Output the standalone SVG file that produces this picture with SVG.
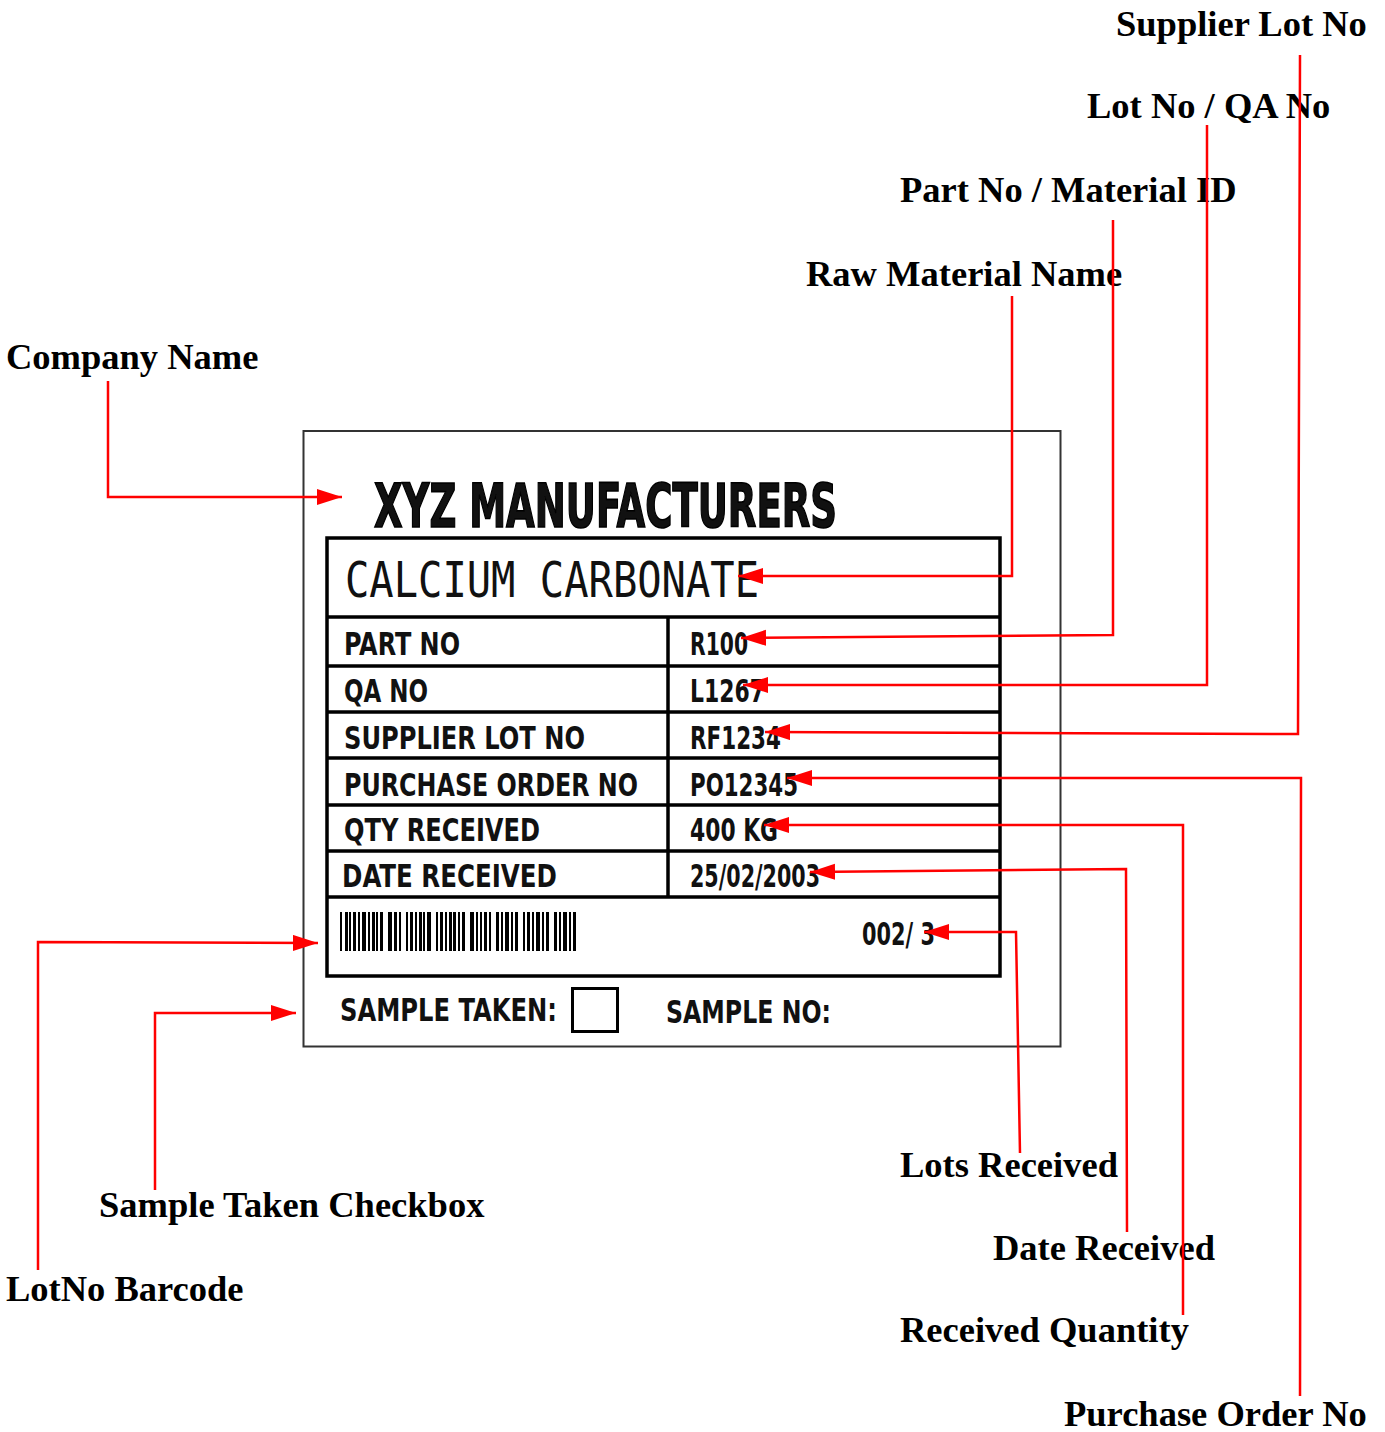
<svg xmlns="http://www.w3.org/2000/svg" width="1385" height="1432" viewBox="0 0 1385 1432">
<style>
.ann{font-family:"Liberation Serif","Times New Roman",serif;font-weight:bold;font-size:36.5px;fill:#000}
.cond{font-family:"Liberation Sans Narrow","DejaVu Sans Condensed","Liberation Sans",sans-serif;font-weight:bold;font-stretch:condensed;fill:#111}
.cell{font-size:31.5px}
.conn{fill:none;stroke:#ff0000;stroke-width:2.5;marker-end:url(#ah)}
.tbl{fill:none;stroke:#000;stroke-width:3.5}
.bar{fill:#000}
</style>
<defs>
<marker id="ah" markerUnits="userSpaceOnUse" markerWidth="26" markerHeight="18" refX="25" refY="8" orient="auto">
<path d="M0,0 L25,8 L0,16 Z" fill="#ff0000"/>
</marker>
</defs>
<rect width="1385" height="1432" fill="#fff"/>

<g id="label">
<rect x="303.5" y="431" width="757" height="615.5" fill="none" stroke="#333" stroke-width="2"/>
<text class="cond" x="374" y="527" font-size="60" textLength="463" lengthAdjust="spacingAndGlyphs" fill="#000" stroke="#000" stroke-width="1.6">XYZ MANUFACTURERS</text>
<rect class="tbl" x="327" y="538" width="673" height="438"/>
<line class="tbl" x1="327" y1="617" x2="1000" y2="617"/>
<line class="tbl" x1="327" y1="666" x2="1000" y2="666"/>
<line class="tbl" x1="327" y1="712" x2="1000" y2="712"/>
<line class="tbl" x1="327" y1="758" x2="1000" y2="758"/>
<line class="tbl" x1="327" y1="805" x2="1000" y2="805"/>
<line class="tbl" x1="327" y1="851" x2="1000" y2="851"/>
<line class="tbl" x1="327" y1="897" x2="1000" y2="897"/>
<line class="tbl" x1="668" y1="617" x2="668" y2="897"/>
<text x="345" y="597" font-family="'DejaVu Sans Mono','Liberation Mono',monospace" font-size="50" textLength="414" lengthAdjust="spacingAndGlyphs" fill="#111">CALCIUM CARBONATE</text>
<text class="cond cell" x="344" y="655" textLength="116" lengthAdjust="spacingAndGlyphs">PART NO</text>
<text class="cond cell" x="344" y="702" textLength="84" lengthAdjust="spacingAndGlyphs">QA NO</text>
<text class="cond cell" x="344" y="749" textLength="241" lengthAdjust="spacingAndGlyphs">SUPPLIER LOT NO</text>
<text class="cond cell" x="344" y="796" textLength="294" lengthAdjust="spacingAndGlyphs">PURCHASE ORDER NO</text>
<text class="cond cell" x="344" y="841" textLength="196" lengthAdjust="spacingAndGlyphs">QTY RECEIVED</text>
<text class="cond cell" x="342" y="887" textLength="215" lengthAdjust="spacingAndGlyphs">DATE RECEIVED</text>
<text class="cond cell" x="690" y="655" textLength="58" lengthAdjust="spacingAndGlyphs">R100</text>
<text class="cond cell" x="690" y="702" textLength="75" lengthAdjust="spacingAndGlyphs">L1267</text>
<text class="cond cell" x="690" y="749" textLength="91" lengthAdjust="spacingAndGlyphs">RF1234</text>
<text class="cond cell" x="690" y="796" textLength="108" lengthAdjust="spacingAndGlyphs">PO12345</text>
<text class="cond cell" x="690" y="841" textLength="88" lengthAdjust="spacingAndGlyphs">400 KG</text>
<text class="cond cell" x="690" y="887" textLength="130" lengthAdjust="spacingAndGlyphs">25/02/2003</text>
<text class="cond cell" x="862" y="945" textLength="73" lengthAdjust="spacingAndGlyphs">002/ 3</text>
<g id="barcode">
<rect class="bar" x="340" y="912" width="2" height="39"/>
<rect class="bar" x="345" y="912" width="3" height="39"/>
<rect class="bar" x="349" y="912" width="2" height="39"/>
<rect class="bar" x="353" y="912" width="3" height="39"/>
<rect class="bar" x="358" y="912" width="2" height="39"/>
<rect class="bar" x="362" y="912" width="4" height="39"/>
<rect class="bar" x="368" y="912" width="2" height="39"/>
<rect class="bar" x="372" y="912" width="3" height="39"/>
<rect class="bar" x="376" y="912" width="2" height="39"/>
<rect class="bar" x="380" y="912" width="3" height="39"/>
<rect class="bar" x="388" y="912" width="4" height="39"/>
<rect class="bar" x="394" y="912" width="3" height="39"/>
<rect class="bar" x="399" y="912" width="2" height="39"/>
<rect class="bar" x="406" y="912" width="2" height="39"/>
<rect class="bar" x="410" y="912" width="3" height="39"/>
<rect class="bar" x="415" y="912" width="2" height="39"/>
<rect class="bar" x="419" y="912" width="3" height="39"/>
<rect class="bar" x="423" y="912" width="2" height="39"/>
<rect class="bar" x="427" y="912" width="4" height="39"/>
<rect class="bar" x="436" y="912" width="2" height="39"/>
<rect class="bar" x="440" y="912" width="3" height="39"/>
<rect class="bar" x="445" y="912" width="2" height="39"/>
<rect class="bar" x="449" y="912" width="3" height="39"/>
<rect class="bar" x="453" y="912" width="3" height="39"/>
<rect class="bar" x="458" y="912" width="2" height="39"/>
<rect class="bar" x="462" y="912" width="3" height="39"/>
<rect class="bar" x="470" y="912" width="4" height="39"/>
<rect class="bar" x="476" y="912" width="2" height="39"/>
<rect class="bar" x="480" y="912" width="2" height="39"/>
<rect class="bar" x="484" y="912" width="3" height="39"/>
<rect class="bar" x="489" y="912" width="2" height="39"/>
<rect class="bar" x="496" y="912" width="3" height="39"/>
<rect class="bar" x="501" y="912" width="2" height="39"/>
<rect class="bar" x="505" y="912" width="4" height="39"/>
<rect class="bar" x="511" y="912" width="2" height="39"/>
<rect class="bar" x="515" y="912" width="3" height="39"/>
<rect class="bar" x="523" y="912" width="2" height="39"/>
<rect class="bar" x="527" y="912" width="3" height="39"/>
<rect class="bar" x="532" y="912" width="2" height="39"/>
<rect class="bar" x="536" y="912" width="4" height="39"/>
<rect class="bar" x="542" y="912" width="2" height="39"/>
<rect class="bar" x="546" y="912" width="3" height="39"/>
<rect class="bar" x="554" y="912" width="3" height="39"/>
<rect class="bar" x="559" y="912" width="2" height="39"/>
<rect class="bar" x="563" y="912" width="4" height="39"/>
<rect class="bar" x="569" y="912" width="2" height="39"/>
<rect class="bar" x="573" y="912" width="3" height="39"/>
</g>
<text class="cond cell" x="340" y="1021" textLength="217" lengthAdjust="spacingAndGlyphs">SAMPLE TAKEN:</text>
<rect x="572.5" y="988.5" width="45" height="43" fill="none" stroke="#000" stroke-width="3"/>
<text class="cond cell" x="666" y="1023" textLength="165" lengthAdjust="spacingAndGlyphs">SAMPLE NO:</text>
</g>

<g id="ann-supplier-lot"><text class="ann" x="1116" y="36">Supplier Lot No</text></g>
<g id="ann-lot-qa"><text class="ann" x="1087" y="118">Lot No / QA No</text></g>
<g id="ann-part"><text class="ann" x="900" y="202">Part No / Material ID</text></g>
<g id="ann-raw"><text class="ann" x="806" y="286">Raw Material Name</text></g>
<g id="ann-company"><text class="ann" x="6" y="369">Company Name</text></g>
<g id="ann-lots"><text class="ann" x="900" y="1177">Lots Received</text></g>
<g id="ann-date"><text class="ann" x="993" y="1260">Date Received</text></g>
<g id="ann-qty"><text class="ann" x="900" y="1342">Received Quantity</text></g>
<g id="ann-po"><text class="ann" x="1064" y="1426">Purchase Order No</text></g>
<g id="ann-sample"><text class="ann" x="99" y="1217">Sample Taken Checkbox</text></g>
<g id="ann-barcode"><text class="ann" x="6" y="1301">LotNo Barcode</text></g>

<g id="connectors">
<polyline class="conn" points="108,381 108,497 342,497"/>
<polyline class="conn" points="1012,296 1012,576 738,576"/>
<polyline class="conn" points="1113,220 1113,635 741,638"/>
<polyline class="conn" points="1207,125 1207,685 743,685"/>
<polyline class="conn" points="1300,55 1298,734 765,732"/>
<polyline class="conn" points="1300,1396 1301,778 787,778"/>
<polyline class="conn" points="1183,1315 1183,825 764,825"/>
<polyline class="conn" points="1127,1232 1126,869 810,872"/>
<polyline class="conn" points="1020,1153 1016,932 924,932"/>
<polyline class="conn" points="38,1270 38,942 318,943"/>
<polyline class="conn" points="155,1190 155,1013 296,1013"/>
</g>
</svg>
